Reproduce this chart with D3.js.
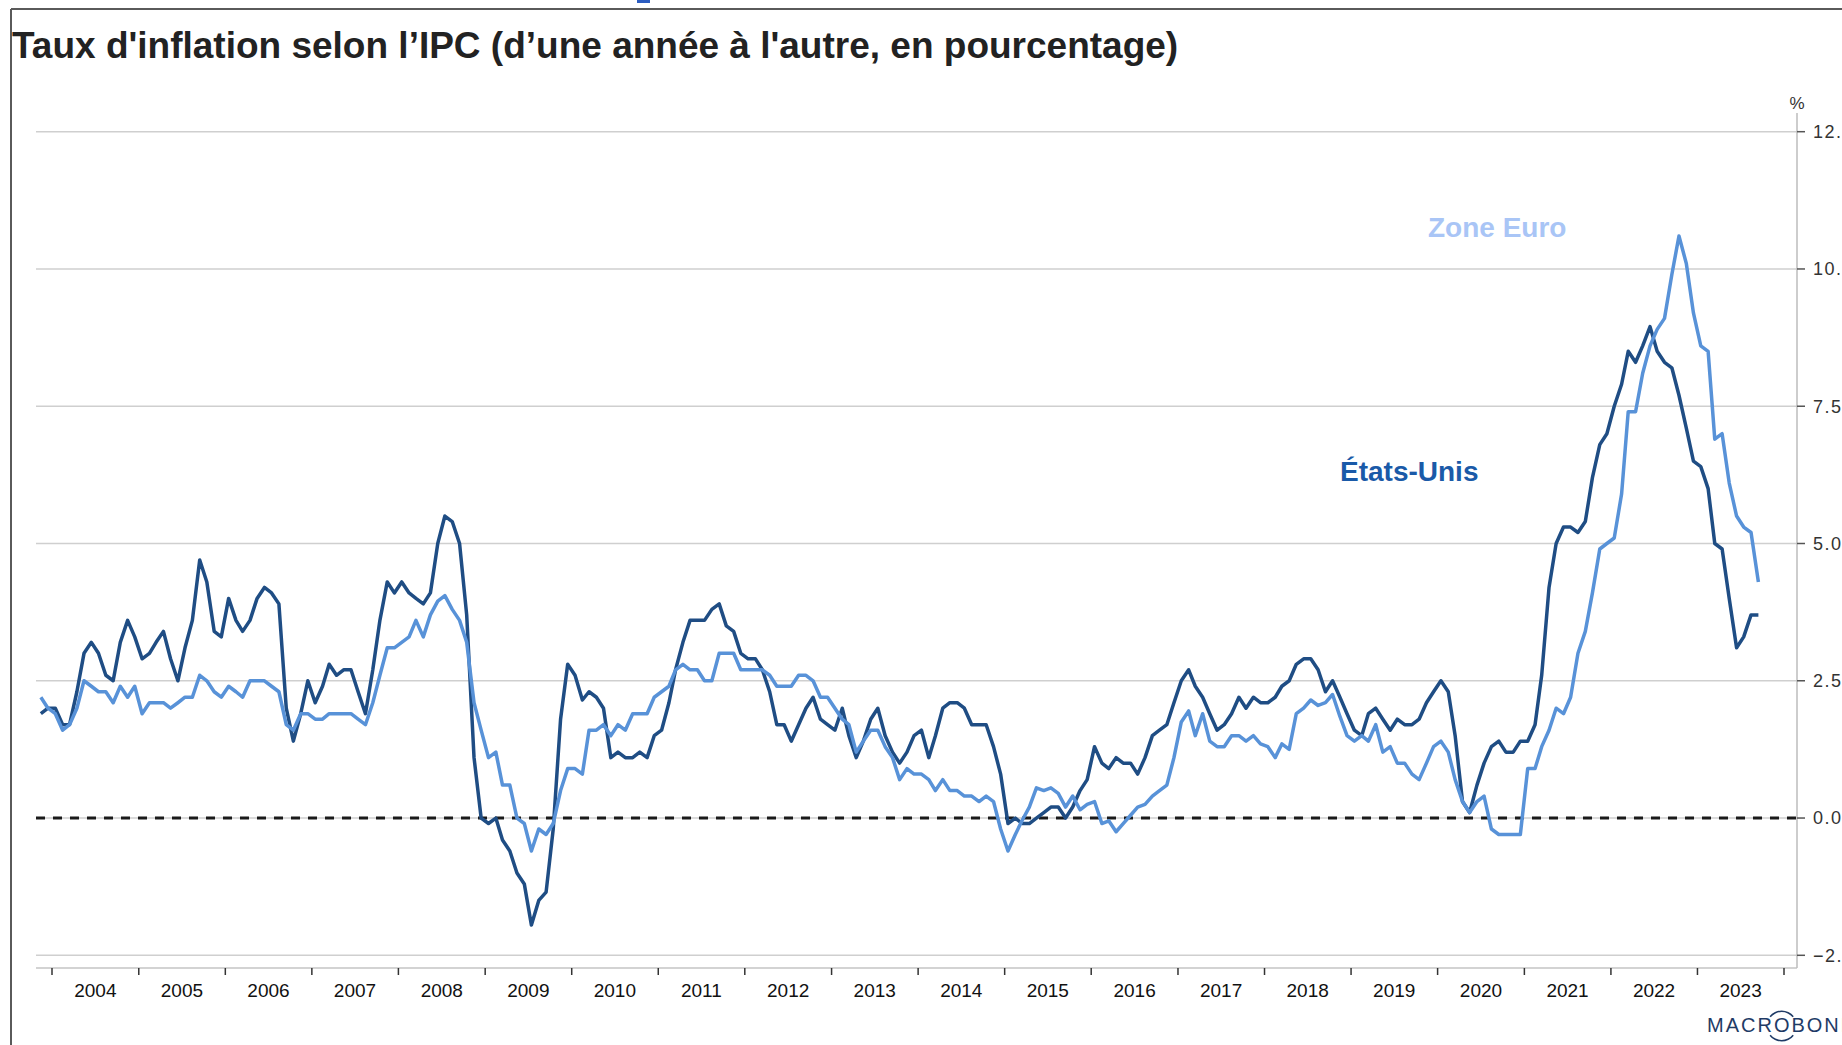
<!DOCTYPE html>
<html>
<head>
<meta charset="utf-8">
<script src="https://cdn.jsdelivr.net/npm/d3@7"></script>
<style>
  html, body { margin: 0; padding: 0; background: #fff; overflow: hidden; }
  svg { display: block; font-family: "Liberation Sans", Arial, sans-serif; }
</style>
</head>
<body>
<svg id="chart" width="1842" height="1045"></svg>
<script>
// monthly series, first value = Nov 2003
const startYear = 2003, startMonth = 10;

const usCpi = [
  1.9, 2.0,
  2.0, 1.7, 1.7, 2.3, 3.0, 3.2, 3.0, 2.6, 2.5, 3.2, 3.6, 3.3,
  2.9, 3.0, 3.2, 3.4, 2.9, 2.5, 3.1, 3.6, 4.7, 4.3, 3.4, 3.3,
  4.0, 3.6, 3.4, 3.6, 4.0, 4.2, 4.1, 3.9, 2.0, 1.4, 1.9, 2.5,
  2.1, 2.4, 2.8, 2.6, 2.7, 2.7, 2.3, 1.9, 2.7, 3.6, 4.3, 4.1,
  4.3, 4.1, 4.0, 3.9, 4.1, 5.0, 5.5, 5.4, 5.0, 3.7, 1.1, 0.0,
  -0.1, 0.0, -0.4, -0.6, -1.0, -1.2, -1.95, -1.5, -1.35, -0.2, 1.8, 2.8,
  2.6, 2.15, 2.3, 2.2, 2.0, 1.1, 1.2, 1.1, 1.1, 1.2, 1.1, 1.5,
  1.6, 2.1, 2.7, 3.2, 3.6, 3.6, 3.6, 3.8, 3.9, 3.5, 3.4, 3.0,
  2.9, 2.9, 2.7, 2.3, 1.7, 1.7, 1.4, 1.7, 2.0, 2.2, 1.8, 1.7,
  1.6, 2.0, 1.5, 1.1, 1.4, 1.8, 2.0, 1.5, 1.2, 1.0, 1.2, 1.5,
  1.6, 1.1, 1.5, 2.0, 2.1, 2.1, 2.0, 1.7, 1.7, 1.7, 1.3, 0.8,
  -0.1, 0.0, -0.1, -0.1, 0.0, 0.1, 0.2, 0.2, 0.0, 0.2, 0.5, 0.7,
  1.3, 1.0, 0.9, 1.1, 1.0, 1.0, 0.8, 1.1, 1.5, 1.6, 1.7, 2.1,
  2.5, 2.7, 2.4, 2.2, 1.9, 1.6, 1.7, 1.9, 2.2, 2.0, 2.2, 2.1,
  2.1, 2.2, 2.4, 2.5, 2.8, 2.9, 2.9, 2.7, 2.3, 2.5, 2.2, 1.9,
  1.6, 1.5, 1.9, 2.0, 1.8, 1.6, 1.8, 1.7, 1.7, 1.8, 2.1, 2.3,
  2.5, 2.3, 1.5, 0.3, 0.1, 0.6, 1.0, 1.3, 1.4, 1.2, 1.2, 1.4,
  1.4, 1.7, 2.6, 4.2, 5.0, 5.3, 5.3, 5.2, 5.4, 6.2, 6.8, 7.0,
  7.5, 7.9, 8.5, 8.3, 8.6, 8.95, 8.5, 8.3, 8.2, 7.7, 7.1, 6.5,
  6.4, 6.0, 5.0, 4.9, 4.0, 3.1, 3.3, 3.7, 3.7
];

const euroHicp = [
  2.2, 2.0,
  1.9, 1.6, 1.7, 2.0, 2.5, 2.4, 2.3, 2.3, 2.1, 2.4, 2.2, 2.4,
  1.9, 2.1, 2.1, 2.1, 2.0, 2.1, 2.2, 2.2, 2.6, 2.5, 2.3, 2.2,
  2.4, 2.3, 2.2, 2.5, 2.5, 2.5, 2.4, 2.3, 1.7, 1.6, 1.9, 1.9,
  1.8, 1.8, 1.9, 1.9, 1.9, 1.9, 1.8, 1.7, 2.1, 2.6, 3.1, 3.1,
  3.2, 3.3, 3.6, 3.3, 3.7, 3.95, 4.05, 3.8, 3.6, 3.2, 2.1, 1.6,
  1.1, 1.2, 0.6, 0.6, 0.0, -0.1, -0.6, -0.2, -0.3, -0.1, 0.5, 0.9,
  0.9, 0.8, 1.6, 1.6, 1.7, 1.5, 1.7, 1.6, 1.9, 1.9, 1.9, 2.2,
  2.3, 2.4, 2.7, 2.8, 2.7, 2.7, 2.5, 2.5, 3.0, 3.0, 3.0, 2.7,
  2.7, 2.7, 2.7, 2.6, 2.4, 2.4, 2.4, 2.6, 2.6, 2.5, 2.2, 2.2,
  2.0, 1.8, 1.7, 1.2, 1.4, 1.6, 1.6, 1.3, 1.1, 0.7, 0.9, 0.8,
  0.8, 0.7, 0.5, 0.7, 0.5, 0.5, 0.4, 0.4, 0.3, 0.4, 0.3, -0.2,
  -0.6, -0.3, -0.05, 0.2, 0.55, 0.5, 0.55, 0.45, 0.2, 0.4, 0.15, 0.25,
  0.3, -0.1, -0.05, -0.25, -0.1, 0.05, 0.2, 0.25, 0.4, 0.5, 0.6, 1.1,
  1.75, 1.95, 1.5, 1.9, 1.4, 1.3, 1.3, 1.5, 1.5, 1.4, 1.5, 1.35,
  1.3, 1.1, 1.35, 1.25, 1.9, 2.0, 2.15, 2.05, 2.1, 2.25, 1.85, 1.5,
  1.4, 1.5, 1.4, 1.7, 1.2, 1.3, 1.0, 1.0, 0.8, 0.7, 1.0, 1.3,
  1.4, 1.2, 0.7, 0.3, 0.1, 0.3, 0.4, -0.2, -0.3, -0.3, -0.3, -0.3,
  0.9, 0.9, 1.3, 1.6, 2.0, 1.9, 2.2, 3.0, 3.4, 4.1, 4.9, 5.0,
  5.1, 5.9, 7.4, 7.4, 8.1, 8.6, 8.9, 9.1, 9.9, 10.6, 10.1, 9.2,
  8.6, 8.5, 6.9, 7.0, 6.1, 5.5, 5.3, 5.2, 4.3
];

const yTicks = [-2.5, 0, 2.5, 5, 7.5, 10, 12.5];
const yearTicks = d3.range(2004, 2025);
const yearLabels = d3.range(2004, 2024);

const svg = d3.select('#chart');
const left = 36, right = 1797, plotTop = 113, plotBottom = 968;

const x = d3.scaleTime()
  .domain([new Date(2004, 0, 1), new Date(2024, 0, 1)])
  .range([52, 1784]);
const y = d3.scaleLinear()
  .domain([-2.5, 12.5])
  .range([955.3, 131.7]);

const toSeries = vals => vals.map((v, i) => ({ date: new Date(startYear, startMonth + i, 15), value: v }));

// outer frame
svg.append('line').attr('x1', 11).attr('x2', 1842).attr('y1', 9).attr('y2', 9)
  .attr('stroke', '#5a5a5a').attr('stroke-width', 2);
svg.append('line').attr('x1', 11).attr('x2', 11).attr('y1', 9).attr('y2', 1045)
  .attr('stroke', '#5a5a5a').attr('stroke-width', 2);
svg.append('rect').attr('x', 637).attr('y', 0).attr('width', 13).attr('height', 3)
  .attr('fill', '#2b5cc0');

// title
svg.append('text')
  .attr('x', 12).attr('y', 58)
  .style('font-size', '37px').style('font-weight', 'bold').attr('fill', '#222')
  .text("Taux d'inflation selon l\u2019IPC (d\u2019une ann\u00e9e \u00e0 l'autre, en pourcentage)");

// gridlines
svg.append('g').selectAll('line').data(yTicks).join('line')
  .attr('x1', left).attr('x2', right)
  .attr('y1', d => y(d)).attr('y2', d => y(d))
  .attr('stroke', '#cfcfcf').attr('stroke-width', 1.5);

// zero line
svg.append('line')
  .attr('x1', left).attr('x2', right).attr('y1', y(0)).attr('y2', y(0))
  .attr('stroke', '#1a1a1a').attr('stroke-width', 3).attr('stroke-dasharray', '9,8');

// plot bottom border
svg.append('line').attr('x1', left).attr('x2', right).attr('y1', plotBottom).attr('y2', plotBottom)
  .attr('stroke', '#c4c4c4').attr('stroke-width', 1.5);

// right axis
svg.append('line').attr('x1', right).attr('x2', right).attr('y1', plotTop).attr('y2', plotBottom)
  .attr('stroke', '#bdbdbd').attr('stroke-width', 1.5);
const yAx = svg.append('g');
yAx.selectAll('line').data(yTicks).join('line')
  .attr('x1', right).attr('x2', right + 8)
  .attr('y1', d => y(d)).attr('y2', d => y(d))
  .attr('stroke', '#555').attr('stroke-width', 1.5);
yAx.selectAll('text').data(yTicks).join('text')
  .attr('x', 1813).attr('y', d => y(d)).attr('dy', '0.35em')
  .style('font-size', '18px').style('letter-spacing', '1.5px').attr('fill', '#333')
  .text(d => d3.format('.1f')(d));
svg.append('text').attr('x', 1797).attr('y', 109).attr('text-anchor', 'middle')
  .style('font-size', '17px').attr('fill', '#333').text('%');

// x axis
const xAx = svg.append('g');
xAx.selectAll('line').data(yearTicks).join('line')
  .attr('x1', d => x(new Date(d, 0, 1))).attr('x2', d => x(new Date(d, 0, 1)))
  .attr('y1', plotBottom).attr('y2', plotBottom + 7)
  .attr('stroke', '#333').attr('stroke-width', 1.5);
xAx.selectAll('text').data(yearLabels).join('text')
  .attr('x', d => x(new Date(d, 6, 2))).attr('y', 997)
  .attr('text-anchor', 'middle')
  .style('font-size', '19px').attr('fill', '#111')
  .text(d => d);

// series
const line = d3.line().x(d => x(d.date)).y(d => y(d.value));
svg.append('path').datum(toSeries(usCpi))
  .attr('d', line).attr('fill', 'none')
  .attr('stroke', '#1f4d84').attr('stroke-width', 3.5).attr('stroke-linejoin', 'round');
svg.append('path').datum(toSeries(euroHicp))
  .attr('d', line).attr('fill', 'none')
  .attr('stroke', '#5892d8').attr('stroke-width', 3.5).attr('stroke-linejoin', 'round');

// series labels
svg.append('text').attr('x', 1428).attr('y', 237)
  .style('font-size', '28px').style('font-weight', 'bold').attr('fill', '#a9c5f6')
  .text('Zone Euro');
svg.append('text').attr('x', 1340).attr('y', 481)
  .style('font-size', '28px').style('font-weight', 'bold').attr('fill', '#1a5aa8')
  .text('\u00c9tats-Unis');

// macrobond logo
const logo = svg.append('text').attr('x', 1707).attr('y', 1032)
  .style('font-size', '20px').style('letter-spacing', '2px').attr('fill', '#1f3b66')
  .text('MACROBOND');
const node = logo.node();
const o = node.getExtentOfChar(4);
const cx = o.x + o.width / 2 - 1, cy = o.y + o.height / 2 + 1;
const arc = d3.arc().innerRadius(14).outerRadius(15.5);
svg.append('path').attr('transform', `translate(${cx},${cy})`)
  .attr('d', arc({ startAngle: -0.9, endAngle: 0.9 })).attr('fill', '#1f3b66');
svg.append('path').attr('transform', `translate(${cx},${cy})`)
  .attr('d', arc({ startAngle: Math.PI - 0.9, endAngle: Math.PI + 0.9 })).attr('fill', '#1f3b66');
</script>
</body>
</html>
